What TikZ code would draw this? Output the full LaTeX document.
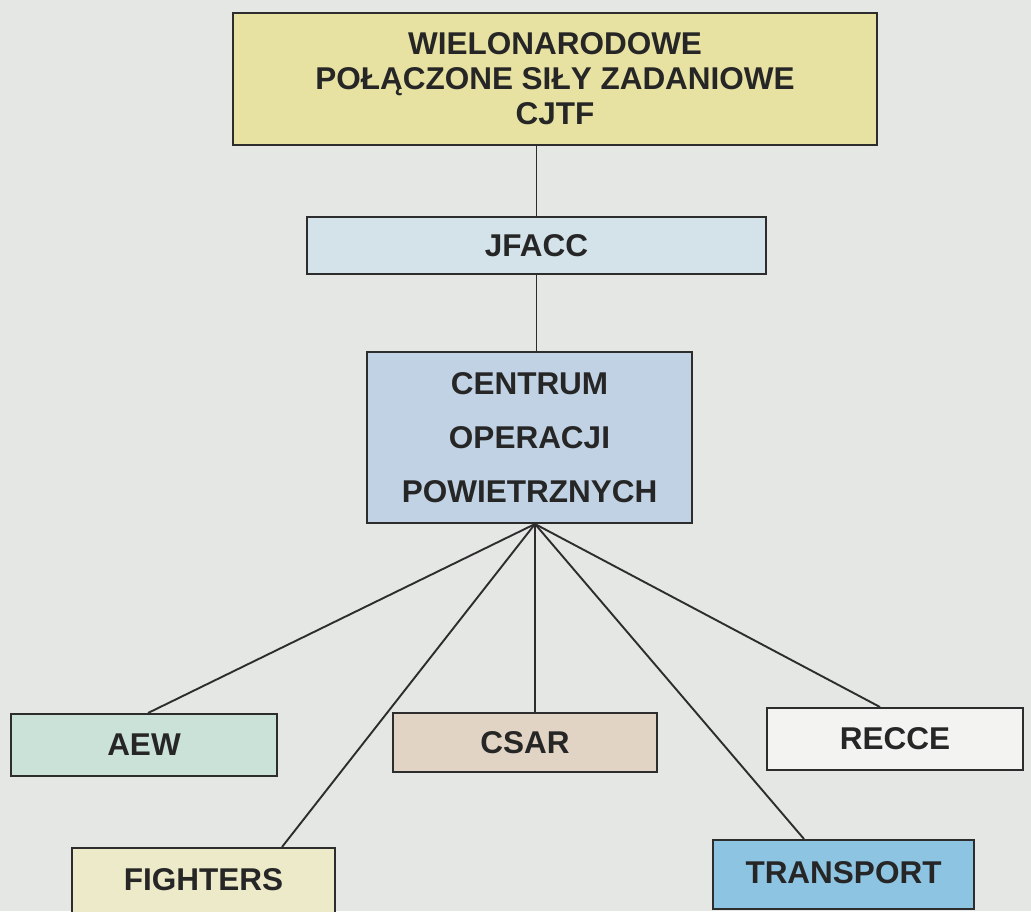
\documentclass[tikz,border=0pt]{standalone}
\usepackage{fontspec}
\setmainfont{Liberation Sans}
\definecolor{paper}{RGB}{228,231,228}
\definecolor{edge}{RGB}{45,45,45}
\definecolor{ink}{RGB}{38,38,38}
\definecolor{cjtfcol}{RGB}{232,226,162}
\definecolor{jfacccol}{RGB}{212,226,234}
\definecolor{aoccol}{RGB}{192,210,227}
\definecolor{aewcol}{RGB}{202,226,216}
\definecolor{csarcol}{RGB}{226,212,197}
\definecolor{reccecol}{RGB}{243,244,241}
\definecolor{fightcol}{RGB}{236,234,200}
\definecolor{transcol}{RGB}{140,196,226}
\tikzset{
  x=1pt, y=1pt,
  unitbox/.style={draw=edge, line width=2pt, inner sep=0pt, align=center,
    text=ink, font=\fontsize{31.5}{35}\selectfont\bfseries},
  link/.style={draw=edge, line width=1.9pt}
}
\begin{document}
\begin{tikzpicture}
  % page background
  \fill[paper] (0,0) rectangle (1031,-911);
  \useasboundingbox (0,0) rectangle (1031,-911);

  % command chain
  \node[unitbox, fill=cjtfcol, minimum width=644, minimum height=132]
    (cjtf) at (555,-79) {WIELONARODOWE\\POŁĄCZONE SIŁY ZADANIOWE\\CJTF};
  \node[unitbox, fill=jfacccol, minimum width=459, minimum height=57]
    (jfacc) at (536.5,-245.5) {JFACC};
  \node[unitbox, fill=aoccol, minimum width=325, minimum height=171,
    font=\fontsize{31.5}{54}\selectfont\bfseries]
    (aoc) at (529.5,-437.5) {CENTRUM\\OPERACJI\\POWIETRZNYCH};

  % subordinate elements
  \node[unitbox, fill=aewcol, minimum width=266, minimum height=62]
    (aew) at (144,-745) {AEW};
  \node[unitbox, fill=csarcol, minimum width=264, minimum height=59]
    (csar) at (525,-742.5) {CSAR};
  \node[unitbox, fill=reccecol, minimum width=256, minimum height=62]
    (recce) at (895,-739) {RECCE};
  \node[unitbox, fill=fightcol, minimum width=263, minimum height=66, anchor=north]
    (fighters) at (203.5,-847) {\raisebox{4pt}{FIGHTERS}};
  \node[unitbox, fill=transcol, minimum width=261, minimum height=69]
    (transport) at (843.5,-874.5) {\raisebox{4pt}{TRANSPORT}};

  % connectors
  \draw[link] (cjtf.south -| jfacc.north) -- (jfacc.north);
  \draw[link] (jfacc.south) -- (jfacc.south |- aoc.north);
  \coordinate (hub) at ([xshift=5.5pt]aoc.south);
  \draw[link] (hub) -- ([xshift=4pt]aew.north);
  \draw[link] (hub) -- ([xshift=78.5pt]fighters.north);
  \draw[link] (hub) -- ([xshift=10pt]csar.north);
  \draw[link] (hub) -- ([xshift=-39.5pt]transport.north);
  \draw[link] (hub) -- ([xshift=-15pt]recce.north);
\end{tikzpicture}
\end{document}
